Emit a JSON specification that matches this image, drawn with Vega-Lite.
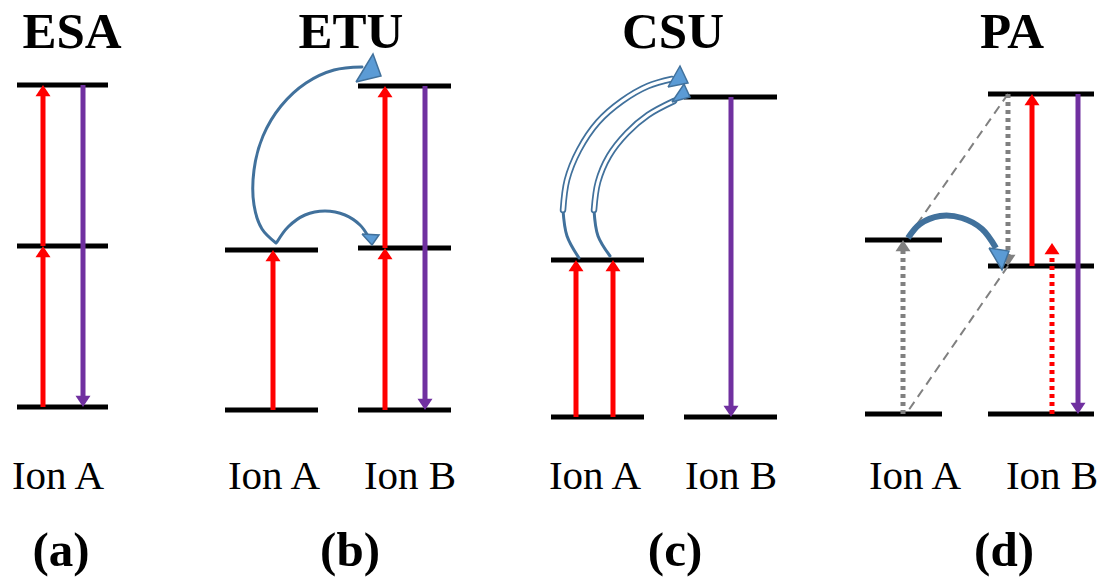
{
  "$schema": "https://vega.github.io/schema/vega-lite/v6.json",
  "width": 1102,
  "height": 578,
  "autosize": {"type": "fit", "contains": "padding"},
  "padding": 0,
  "background": "white",
  "config": {"view": {"stroke": null}},
  "datasets": {
    "levels": [
      {"x1": 17, "x2": 108, "y": 85}, {"x1": 17, "x2": 108, "y": 246}, {"x1": 17, "x2": 108, "y": 407},
      {"x1": 225, "x2": 318, "y": 250}, {"x1": 225, "x2": 318, "y": 410},
      {"x1": 358, "x2": 451, "y": 86}, {"x1": 358, "x2": 451, "y": 248}, {"x1": 358, "x2": 451, "y": 410},
      {"x1": 551, "x2": 644, "y": 260}, {"x1": 551, "x2": 644, "y": 417},
      {"x1": 684, "x2": 777, "y": 97}, {"x1": 684, "x2": 777, "y": 417},
      {"x1": 865, "x2": 942, "y": 240}, {"x1": 865, "x2": 942, "y": 414},
      {"x1": 988, "x2": 1094, "y": 94}, {"x1": 988, "x2": 1094, "y": 266}, {"x1": 988, "x2": 1094, "y": 414}
    ],
    "arrows": [
      {"x": 43, "from": 407, "to": 246, "kind": "exc"},
      {"x": 43, "from": 246, "to": 85, "kind": "exc"},
      {"x": 83, "from": 85, "to": 407, "kind": "emi"},
      {"x": 273, "from": 410, "to": 250, "kind": "exc"},
      {"x": 385, "from": 410, "to": 248, "kind": "exc"},
      {"x": 385, "from": 248, "to": 86, "kind": "exc"},
      {"x": 425, "from": 86, "to": 410, "kind": "emi"},
      {"x": 576, "from": 417, "to": 260, "kind": "exc"},
      {"x": 613, "from": 417, "to": 260, "kind": "exc"},
      {"x": 731, "from": 97, "to": 417, "kind": "emi"},
      {"x": 903, "from": 414, "to": 240, "kind": "nonrad"},
      {"x": 1008, "from": 94, "to": 266, "kind": "nonrad"},
      {"x": 1032, "from": 266, "to": 94, "kind": "exc"},
      {"x": 1052, "from": 414, "to": 243, "kind": "weak"},
      {"x": 1078, "from": 94, "to": 414, "kind": "emi"}
    ],
    "dashed": [
      {"x": 1008, "y": 94, "x2": 906, "y2": 240},
      {"x": 1008, "y": 266, "x2": 906, "y2": 414}
    ],
    "curves": [
      {"id": "bbig", "g": "thin", "o": 1, "x": 276, "y": 243},
      {"id": "bbig", "g": "thin", "o": 2, "x": 262, "y": 229},
      {"id": "bbig", "g": "thin", "o": 3, "x": 254, "y": 205},
      {"id": "bbig", "g": "thin", "o": 4, "x": 254, "y": 170},
      {"id": "bbig", "g": "thin", "o": 5, "x": 263, "y": 136},
      {"id": "bbig", "g": "thin", "o": 6, "x": 281, "y": 106},
      {"id": "bbig", "g": "thin", "o": 7, "x": 306, "y": 83},
      {"id": "bbig", "g": "thin", "o": 8, "x": 334, "y": 70},
      {"id": "bbig", "g": "thin", "o": 9, "x": 362, "y": 67},
      {"id": "bsmall", "g": "thin", "o": 1, "x": 277, "y": 242},
      {"id": "bsmall", "g": "thin", "o": 2, "x": 288, "y": 227},
      {"id": "bsmall", "g": "thin", "o": 3, "x": 305, "y": 215},
      {"id": "bsmall", "g": "thin", "o": 4, "x": 325, "y": 211},
      {"id": "bsmall", "g": "thin", "o": 5, "x": 345, "y": 215},
      {"id": "bsmall", "g": "thin", "o": 6, "x": 360, "y": 225},
      {"id": "bsmall", "g": "thin", "o": 7, "x": 368, "y": 236},
      {"id": "cout", "g": "hollow", "o": 1, "x": 579, "y": 258},
      {"id": "cout", "g": "hollow", "o": 2, "x": 567, "y": 236},
      {"id": "cout", "g": "hollow", "o": 3, "x": 563, "y": 210},
      {"id": "cout", "g": "hollow", "o": 4, "x": 567, "y": 180},
      {"id": "cout", "g": "hollow", "o": 5, "x": 579, "y": 150},
      {"id": "cout", "g": "hollow", "o": 6, "x": 598, "y": 122},
      {"id": "cout", "g": "hollow", "o": 7, "x": 622, "y": 101},
      {"id": "cout", "g": "hollow", "o": 8, "x": 648, "y": 86},
      {"id": "cout", "g": "hollow", "o": 9, "x": 672, "y": 79},
      {"id": "cin", "g": "hollow", "o": 1, "x": 610, "y": 256},
      {"id": "cin", "g": "hollow", "o": 2, "x": 598, "y": 236},
      {"id": "cin", "g": "hollow", "o": 3, "x": 594, "y": 210},
      {"id": "cin", "g": "hollow", "o": 4, "x": 598, "y": 182},
      {"id": "cin", "g": "hollow", "o": 5, "x": 609, "y": 156},
      {"id": "cin", "g": "hollow", "o": 6, "x": 627, "y": 133},
      {"id": "cin", "g": "hollow", "o": 7, "x": 648, "y": 115},
      {"id": "cin", "g": "hollow", "o": 8, "x": 674, "y": 101},
      {"id": "d", "g": "thick", "o": 1, "x": 908, "y": 238},
      {"id": "d", "g": "thick", "o": 2, "x": 920, "y": 224},
      {"id": "d", "g": "thick", "o": 3, "x": 940, "y": 216},
      {"id": "d", "g": "thick", "o": 4, "x": 962, "y": 218},
      {"id": "d", "g": "thick", "o": 5, "x": 982, "y": 229},
      {"id": "d", "g": "thick", "o": 6, "x": 996, "y": 248}
    ],
    "heads": [
      {"id": "bbig", "o": 1, "x": 356, "y": 82}, {"id": "bbig", "o": 2, "x": 373, "y": 54}, {"id": "bbig", "o": 3, "x": 381, "y": 76}, {"id": "bbig", "o": 4, "x": 356, "y": 82},
      {"id": "bsmall", "o": 1, "x": 362, "y": 234}, {"id": "bsmall", "o": 2, "x": 379, "y": 235}, {"id": "bsmall", "o": 3, "x": 372, "y": 245}, {"id": "bsmall", "o": 4, "x": 362, "y": 234},
      {"id": "cout", "o": 1, "x": 668, "y": 87}, {"id": "cout", "o": 2, "x": 680, "y": 66}, {"id": "cout", "o": 3, "x": 688, "y": 83}, {"id": "cout", "o": 4, "x": 668, "y": 87},
      {"id": "cin", "o": 1, "x": 672, "y": 102}, {"id": "cin", "o": 2, "x": 684, "y": 84}, {"id": "cin", "o": 3, "x": 690, "y": 97}, {"id": "cin", "o": 4, "x": 672, "y": 102},
      {"id": "d", "o": 1, "x": 989, "y": 248}, {"id": "d", "o": 2, "x": 1009, "y": 251}, {"id": "d", "o": 3, "x": 1002, "y": 270}, {"id": "d", "o": 4, "x": 989, "y": 248}
    ],
    "titles": [
      {"x": 72, "y": 48, "t": "ESA"}, {"x": 351, "y": 48, "t": "ETU"}, {"x": 673, "y": 48, "t": "CSU"}, {"x": 1012, "y": 48, "t": "PA"}
    ],
    "labels": [
      {"x": 58, "y": 489, "t": "Ion A"}, {"x": 274, "y": 489, "t": "Ion A"}, {"x": 410, "y": 489, "t": "Ion B"},
      {"x": 595, "y": 489, "t": "Ion A"}, {"x": 731, "y": 489, "t": "Ion B"},
      {"x": 915, "y": 489, "t": "Ion A"}, {"x": 1052, "y": 489, "t": "Ion B"}
    ],
    "panels": [
      {"x": 61, "y": 566, "t": "(a)"}, {"x": 350, "y": 566, "t": "(b)"}, {"x": 675, "y": 566, "t": "(c)"}, {"x": 1004, "y": 566, "t": "(d)"}
    ]
  },
  "layer": [
    {
      "data": {"name": "levels"},
      "mark": {"type": "rule", "color": "black", "strokeWidth": 5},
      "encoding": {
        "x": {"field": "x1", "type": "quantitative", "scale": {"domain": [0, 1102], "nice": false, "zero": false}, "axis": null},
        "x2": {"field": "x2"},
        "y": {"field": "y", "type": "quantitative", "scale": {"domain": [0, 578], "nice": false, "zero": false, "reverse": true}, "axis": null}
      }
    },
    {
      "data": {"name": "dashed"},
      "mark": {"type": "rule", "color": "#808080", "strokeWidth": 2, "strokeDash": [9, 6]},
      "encoding": {
        "x": {"field": "x", "type": "quantitative", "scale": {"domain": [0, 1102], "nice": false, "zero": false}, "axis": null},
        "x2": {"field": "x2"},
        "y": {"field": "y", "type": "quantitative", "scale": {"domain": [0, 578], "nice": false, "zero": false, "reverse": true}, "axis": null},
        "y2": {"field": "y2"}
      }
    },
    {
      "data": {"name": "arrows"},
      "transform": [{"filter": "datum.to < datum.from"}],
      "mark": {"type": "rule", "strokeWidth": 5, "y2Offset": 10, "strokeCap": "butt"},
      "encoding": {
        "x": {"field": "x", "type": "quantitative", "scale": {"domain": [0, 1102], "nice": false, "zero": false}, "axis": null},
        "y": {"field": "from", "type": "quantitative", "scale": {"domain": [0, 578], "nice": false, "zero": false, "reverse": true}, "axis": null},
        "y2": {"field": "to"},
        "color": {"field": "kind", "type": "nominal", "scale": {"domain": ["exc", "emi", "nonrad", "weak"], "range": ["#FF0000", "#7030A0", "#808080", "#FF0000"]}, "legend": null},
        "strokeDash": {"field": "kind", "type": "nominal", "scale": {"domain": ["exc", "emi", "nonrad", "weak"], "range": [[1, 0], [1, 0], [4, 4], [4, 4]]}, "legend": null}
      }
    },
    {
      "data": {"name": "arrows"},
      "transform": [{"filter": "datum.to > datum.from"}],
      "mark": {"type": "rule", "strokeWidth": 5, "y2Offset": -10, "strokeCap": "butt"},
      "encoding": {
        "x": {"field": "x", "type": "quantitative", "scale": {"domain": [0, 1102], "nice": false, "zero": false}, "axis": null},
        "y": {"field": "from", "type": "quantitative", "scale": {"domain": [0, 578], "nice": false, "zero": false, "reverse": true}, "axis": null},
        "y2": {"field": "to"},
        "color": {"field": "kind", "type": "nominal", "scale": {"domain": ["exc", "emi", "nonrad", "weak"], "range": ["#FF0000", "#7030A0", "#808080", "#FF0000"]}, "legend": null},
        "strokeDash": {"field": "kind", "type": "nominal", "scale": {"domain": ["exc", "emi", "nonrad", "weak"], "range": [[1, 0], [1, 0], [4, 4], [4, 4]]}, "legend": null}
      }
    },
    {
      "data": {"name": "arrows"},
      "transform": [{"filter": "datum.to < datum.from"}],
      "mark": {"type": "point", "shape": "M0,0L-1,1.5L1,1.5Z", "size": 225, "filled": true, "opacity": 1, "strokeWidth": 0},
      "encoding": {
        "x": {"field": "x", "type": "quantitative", "scale": {"domain": [0, 1102], "nice": false, "zero": false}, "axis": null},
        "y": {"field": "to", "type": "quantitative", "scale": {"domain": [0, 578], "nice": false, "zero": false, "reverse": true}, "axis": null},
        "color": {"field": "kind", "type": "nominal", "scale": {"domain": ["exc", "emi", "nonrad", "weak"], "range": ["#FF0000", "#7030A0", "#808080", "#FF0000"]}, "legend": null}
      }
    },
    {
      "data": {"name": "arrows"},
      "transform": [{"filter": "datum.to > datum.from"}],
      "mark": {"type": "point", "shape": "M0,0L-1,-1.5L1,-1.5Z", "size": 225, "filled": true, "opacity": 1, "strokeWidth": 0},
      "encoding": {
        "x": {"field": "x", "type": "quantitative", "scale": {"domain": [0, 1102], "nice": false, "zero": false}, "axis": null},
        "y": {"field": "to", "type": "quantitative", "scale": {"domain": [0, 578], "nice": false, "zero": false, "reverse": true}, "axis": null},
        "color": {"field": "kind", "type": "nominal", "scale": {"domain": ["exc", "emi", "nonrad", "weak"], "range": ["#FF0000", "#7030A0", "#808080", "#FF0000"]}, "legend": null}
      }
    },
    {
      "data": {"name": "curves"},
      "transform": [{"filter": "datum.g == 'thin' || (datum.g == 'hollow' && datum.o <= 3)"}],
      "mark": {"type": "line", "interpolate": "catmull-rom", "color": "#41719C", "strokeWidth": 3, "strokeCap": "round"},
      "encoding": {
        "x": {"field": "x", "type": "quantitative", "scale": {"domain": [0, 1102], "nice": false, "zero": false}, "axis": null},
        "y": {"field": "y", "type": "quantitative", "scale": {"domain": [0, 578], "nice": false, "zero": false, "reverse": true}, "axis": null},
        "detail": {"field": "id"},
        "order": {"field": "o", "type": "quantitative"}
      }
    },
    {
      "data": {"name": "curves"},
      "transform": [{"filter": "datum.g == 'hollow' && datum.o >= 3"}],
      "mark": {"type": "line", "interpolate": "catmull-rom", "color": "#41719C", "strokeWidth": 6.5, "strokeCap": "round"},
      "encoding": {
        "x": {"field": "x", "type": "quantitative", "scale": {"domain": [0, 1102], "nice": false, "zero": false}, "axis": null},
        "y": {"field": "y", "type": "quantitative", "scale": {"domain": [0, 578], "nice": false, "zero": false, "reverse": true}, "axis": null},
        "detail": {"field": "id"},
        "order": {"field": "o", "type": "quantitative"}
      }
    },
    {
      "data": {"name": "curves"},
      "transform": [{"filter": "datum.g == 'hollow' && datum.o >= 3"}],
      "mark": {"type": "line", "interpolate": "catmull-rom", "color": "white", "strokeWidth": 3, "strokeCap": "round"},
      "encoding": {
        "x": {"field": "x", "type": "quantitative", "scale": {"domain": [0, 1102], "nice": false, "zero": false}, "axis": null},
        "y": {"field": "y", "type": "quantitative", "scale": {"domain": [0, 578], "nice": false, "zero": false, "reverse": true}, "axis": null},
        "detail": {"field": "id"},
        "order": {"field": "o", "type": "quantitative"}
      }
    },
    {
      "data": {"name": "curves"},
      "transform": [{"filter": "datum.g == 'thick'"}],
      "mark": {"type": "line", "interpolate": "catmull-rom", "color": "#41719C", "strokeWidth": 6, "strokeCap": "butt"},
      "encoding": {
        "x": {"field": "x", "type": "quantitative", "scale": {"domain": [0, 1102], "nice": false, "zero": false}, "axis": null},
        "y": {"field": "y", "type": "quantitative", "scale": {"domain": [0, 578], "nice": false, "zero": false, "reverse": true}, "axis": null},
        "detail": {"field": "id"},
        "order": {"field": "o", "type": "quantitative"}
      }
    },
    {
      "data": {"name": "heads"},
      "mark": {"type": "line", "interpolate": "linear", "stroke": "#41719C", "fill": "#5B9BD5", "strokeWidth": 1.5, "strokeJoin": "miter"},
      "encoding": {
        "x": {"field": "x", "type": "quantitative", "scale": {"domain": [0, 1102], "nice": false, "zero": false}, "axis": null},
        "y": {"field": "y", "type": "quantitative", "scale": {"domain": [0, 578], "nice": false, "zero": false, "reverse": true}, "axis": null},
        "detail": {"field": "id"},
        "order": {"field": "o", "type": "quantitative"}
      }
    },
    {
      "data": {"name": "titles"},
      "mark": {"type": "text", "font": "Liberation Serif", "fontSize": 51, "fontWeight": "bold", "align": "center", "baseline": "alphabetic", "color": "black"},
      "encoding": {
        "x": {"field": "x", "type": "quantitative", "scale": {"domain": [0, 1102], "nice": false, "zero": false}, "axis": null},
        "y": {"field": "y", "type": "quantitative", "scale": {"domain": [0, 578], "nice": false, "zero": false, "reverse": true}, "axis": null},
        "text": {"field": "t"}
      }
    },
    {
      "data": {"name": "labels"},
      "mark": {"type": "text", "font": "Liberation Serif", "fontSize": 41, "fontWeight": "normal", "align": "center", "baseline": "alphabetic", "color": "black"},
      "encoding": {
        "x": {"field": "x", "type": "quantitative", "scale": {"domain": [0, 1102], "nice": false, "zero": false}, "axis": null},
        "y": {"field": "y", "type": "quantitative", "scale": {"domain": [0, 578], "nice": false, "zero": false, "reverse": true}, "axis": null},
        "text": {"field": "t"}
      }
    },
    {
      "data": {"name": "panels"},
      "mark": {"type": "text", "font": "Liberation Serif", "fontSize": 49, "fontWeight": "bold", "align": "center", "baseline": "alphabetic", "color": "black"},
      "encoding": {
        "x": {"field": "x", "type": "quantitative", "scale": {"domain": [0, 1102], "nice": false, "zero": false}, "axis": null},
        "y": {"field": "y", "type": "quantitative", "scale": {"domain": [0, 578], "nice": false, "zero": false, "reverse": true}, "axis": null},
        "text": {"field": "t"}
      }
    }
  ]
}
